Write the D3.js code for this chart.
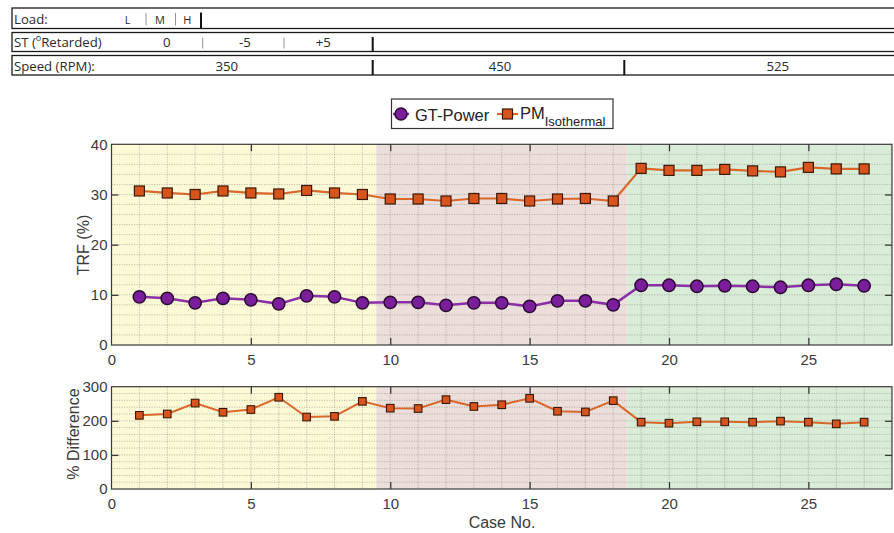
<!DOCTYPE html>
<html>
<head>
<meta charset="utf-8">
<script src="https://cdn.jsdelivr.net/npm/d3@7"></script>
<style>
  html, body { margin: 0; padding: 0; background: #fff; }
  svg { display: block; }
</style>
</head>
<body>
<svg id="chart" width="894" height="533"></svg>
<script>
// Case numbers along the x axis
const cases = [1, 2, 3, 4, 5, 6, 7, 8, 9, 10, 11, 12, 13, 14, 15, 16, 17, 18, 19, 20, 21, 22, 23, 24, 25, 26, 27];

// Thermal reduction factor (%) per case
const gtPower = [9.6, 9.3, 8.4, 9.3, 9.0, 8.2, 9.8, 9.6, 8.4, 8.5, 8.5, 7.9, 8.4, 8.4, 7.7, 8.8, 8.8, 8.0,
                 11.9, 11.9, 11.7, 11.8, 11.7, 11.5, 11.9, 12.1, 11.8];
const pmIsothermal = [30.7, 30.3, 30.0, 30.7, 30.3, 30.1, 30.8, 30.3, 30.0, 29.1, 29.1, 28.7, 29.2, 29.2, 28.7, 29.1, 29.2, 28.7,
                      35.2, 34.8, 34.8, 35.0, 34.7, 34.5, 35.4, 35.1, 35.1];

// Percentage difference between the two models
const pctDifference = [216, 220, 252, 225, 233, 269, 211, 213, 257, 237, 236, 262, 242, 247, 266, 228, 226, 259,
                       196, 193, 197, 197, 196, 199, 196, 191, 196];

// Speed bands shading the plots: [start, end] in case units
const bandRanges = [[0, 9.5], [9.5, 18.5], [18.5, 28]];
const bandColors = ["#fcf9d7", "#ecdedb", "#d9ecd8"];

// Tick values
const xTicks = [0, 5, 10, 15, 20, 25];
const topYTicks = [0, 10, 20, 30, 40];
const botYTicks = [0, 100, 200, 300];

// Operating-condition header rows
const loadLabels = ["L", "M", "H"];
const stLabels = ["0", "-5", "+5"];
const speedLabels = ["350", "450", "525"];

const svg = d3.select("#chart");
const FONT = "'Liberation Sans', Arial, sans-serif";
const HFONT = "'Open Sans', sans-serif";
const AX = "#3a3a3a";

// ---------- Header table ----------
const head = svg.append("g").attr("font-family", HFONT).attr("font-size", 13.2).attr("fill", "#2a2a2a");
const rows = [{y0: 8, y1: 28.5, base: 24}, {y0: 32.5, y1: 51.5, base: 47}, {y0: 55.5, y1: 75, base: 70.5}];
rows.forEach(r => {
  head.append("rect").attr("x", 12).attr("y", r.y0).attr("width", 900).attr("height", r.y1 - r.y0)
    .attr("fill", "none").attr("stroke", "#1a1a1a").attr("stroke-width", 1.3);
});
head.append("text").attr("x", 14).attr("y", rows[0].base).text("Load:");
const st = head.append("text").attr("x", 14).attr("y", rows[1].base);
st.append("tspan").text("ST (");
st.append("tspan").attr("font-size", 9).attr("dy", -6).text("o");
st.append("tspan").attr("dy", 6).text("Retarded)");
head.append("text").attr("x", 14).attr("y", rows[2].base).text("Speed (RPM):");

const headCells = [
  {labels: loadLabels, xs: [127.7, 160, 187.3], row: 0},
  {labels: stLabels, xs: [166.7, 245, 323.3], row: 1},
  {labels: speedLabels, xs: [226.7, 500, 777.7], row: 2}
];
headCells.forEach(c => {
  head.selectAll(null).data(c.labels).enter().append("text")
    .attr("x", (d, i) => c.xs[i]).attr("y", rows[c.row].base)
    .attr("text-anchor", "middle")
    .attr("font-size", c.row === 0 ? 11 : 13.2)
    .text(d => d);
});
// thin separators between sub-columns
const thinSeps = [{x: 146, row: 0}, {x: 175.5, row: 0}, {x: 202.7, row: 1}, {x: 284, row: 1}];
thinSeps.forEach(s => {
  head.append("line").attr("x1", s.x).attr("x2", s.x)
    .attr("y1", rows[s.row].y0 + 5).attr("y2", rows[s.row].y1 - 3)
    .attr("stroke", "#888").attr("stroke-width", 0.9);
});
// heavy separators between groups
const thickSeps = [{x: 201, row: 0}, {x: 372.7, row: 1}, {x: 372.7, row: 2}, {x: 624.3, row: 2}];
thickSeps.forEach(s => {
  head.append("line").attr("x1", s.x).attr("x2", s.x)
    .attr("y1", rows[s.row].y0 + 4.5).attr("y2", rows[s.row].y1)
    .attr("stroke", "#111").attr("stroke-width", 2);
});

// ---------- Scales ----------
const x = d3.scaleLinear().domain([0, 28]).range([111.5, 892]);
const yTop = d3.scaleLinear().domain([0, 40]).range([345, 144.3]);
const yBot = d3.scaleLinear().domain([0, 300]).range([489, 386.7]);

function panel(y, yTicks, minorStep) {
  const g = svg.append("g");
  const [yMin, yMax] = y.domain();
  const [x0, x1] = x.range();
  // speed-band shading
  g.selectAll("rect.band").data(bandRanges).enter().append("rect")
    .attr("x", d => x(d[0])).attr("width", d => x(d[1]) - x(d[0]))
    .attr("y", y(yMax)).attr("height", y(yMin) - y(yMax))
    .attr("fill", (d, i) => bandColors[i]);
  // dotted grid
  const gx = d3.range(1, 28);
  g.selectAll("line.gx").data(gx).enter().append("line")
    .attr("x1", d => x(d)).attr("x2", d => x(d))
    .attr("y1", y(yMax)).attr("y2", y(yMin))
    .attr("stroke", "#7a7a70").attr("stroke-opacity", 0.45)
    .attr("stroke-dasharray", "1.2,1.3").attr("stroke-width", 1);
  const gy = d3.range(yMin + minorStep, yMax, minorStep);
  g.selectAll("line.gy").data(gy).enter().append("line")
    .attr("x1", x0).attr("x2", x1)
    .attr("y1", d => y(d)).attr("y2", d => y(d))
    .attr("stroke", "#7a7a70").attr("stroke-opacity", 0.45)
    .attr("stroke-dasharray", "1.2,1.3").attr("stroke-width", 1);

  // axes with inward ticks
  const axB = g.append("g").attr("transform", `translate(0,${y(yMin)})`)
    .call(d3.axisBottom(x).tickValues(xTicks).tickSizeInner(-7).tickSizeOuter(0).tickPadding(9).tickFormat(d3.format("d")));
  const axT = g.append("g").attr("transform", `translate(0,${y(yMax)})`)
    .call(d3.axisTop(x).tickValues(xTicks).tickSizeInner(-7).tickSizeOuter(0).tickFormat(""));
  const axL = g.append("g").attr("transform", `translate(${x0},0)`)
    .call(d3.axisLeft(y).tickValues(yTicks).tickSizeInner(-7).tickSizeOuter(0).tickPadding(4).tickFormat(d3.format("d")));
  const axR = g.append("g").attr("transform", `translate(${x1},0)`)
    .call(d3.axisRight(y).tickValues(yTicks).tickSizeInner(-7).tickSizeOuter(0).tickFormat(""));
  [axB, axT, axL, axR].forEach(a => {
    a.select(".domain").remove();
    a.selectAll(".tick line").attr("stroke", AX).attr("stroke-width", 1.3);
    a.selectAll(".tick text").attr("font-family", FONT).attr("font-size", 15).attr("fill", "#3a3a3a");
  });
  // hide tick marks that fall on the frame corners
  [axB, axT].forEach(a => a.selectAll(".tick").filter(d => d === 0).select("line").remove());
  [axL, axR].forEach(a => a.selectAll(".tick").filter(d => d === yMin || d === yMax).select("line").remove());

  g.append("rect").attr("x", x0).attr("y", y(yMax))
    .attr("width", x1 - x0).attr("height", y(yMin) - y(yMax))
    .attr("fill", "none").attr("stroke", AX).attr("stroke-width", 1.2);
  return g;
}

// ---------- Top panel: TRF ----------
const trfPanel = panel(yTop, topYTicks, 2);
const line = (y, vals) => d3.line().x((d, i) => x(cases[i])).y(d => y(d))(vals);

const PURPLE_LINE = "#8a2fa6", PURPLE_FILL = "#7a1e9c", PURPLE_EDGE = "#2a0a30";
const ORANGE_LINE = "#d8682a", ORANGE_FILL = "#d9541c", ORANGE_EDGE = "#3a1804";

trfPanel.append("path").attr("d", line(yTop, pmIsothermal)).attr("fill", "none")
  .attr("stroke", ORANGE_LINE).attr("stroke-width", 2.2);
trfPanel.selectAll("rect.pm").data(pmIsothermal).enter().append("rect")
  .attr("x", (d, i) => x(cases[i]) - 5).attr("y", d => yTop(d) - 5)
  .attr("width", 10).attr("height", 10)
  .attr("fill", ORANGE_FILL).attr("stroke", ORANGE_EDGE).attr("stroke-width", 1.2);

trfPanel.append("path").attr("d", line(yTop, gtPower)).attr("fill", "none")
  .attr("stroke", PURPLE_LINE).attr("stroke-width", 2.5);
trfPanel.selectAll("circle.gt").data(gtPower).enter().append("circle")
  .attr("cx", (d, i) => x(cases[i])).attr("cy", d => yTop(d)).attr("r", 6.2)
  .attr("fill", PURPLE_FILL).attr("stroke", PURPLE_EDGE).attr("stroke-width", 1.5);

svg.append("text").attr("transform", "translate(89,245) rotate(-90)")
  .attr("text-anchor", "middle").attr("font-family", FONT).attr("font-size", 16).attr("fill", "#3a3a3a")
  .text("TRF (%)");

// ---------- Bottom panel: % difference ----------
const diffPanel = panel(yBot, botYTicks, 20);
diffPanel.append("path").attr("d", line(yBot, pctDifference)).attr("fill", "none")
  .attr("stroke", ORANGE_LINE).attr("stroke-width", 2);
diffPanel.selectAll("rect.pd").data(pctDifference).enter().append("rect")
  .attr("x", (d, i) => x(cases[i]) - 3.8).attr("y", d => yBot(d) - 3.8)
  .attr("width", 7.6).attr("height", 7.6)
  .attr("fill", ORANGE_FILL).attr("stroke", ORANGE_EDGE).attr("stroke-width", 1.1);

svg.append("text").attr("transform", "translate(79,434) rotate(-90)")
  .attr("text-anchor", "middle").attr("font-family", FONT).attr("font-size", 16).attr("fill", "#3a3a3a")
  .text("% Difference");
svg.append("text").attr("x", 502).attr("y", 528)
  .attr("text-anchor", "middle").attr("font-family", FONT).attr("font-size", 16).attr("fill", "#3a3a3a")
  .text("Case No.");

// ---------- Legend ----------
const lg = svg.append("g").attr("font-family", FONT).attr("fill", "#222");
lg.append("rect").attr("x", 391.5).attr("y", 99).attr("width", 221.5).attr("height", 29.5)
  .attr("fill", "#fff").attr("stroke", "#333").attr("stroke-width", 1.2);
lg.append("line").attr("x1", 393).attr("x2", 409).attr("y1", 114).attr("y2", 114)
  .attr("stroke", PURPLE_LINE).attr("stroke-width", 2.5);
lg.append("circle").attr("cx", 401).attr("cy", 114).attr("r", 6)
  .attr("fill", PURPLE_FILL).attr("stroke", PURPLE_EDGE).attr("stroke-width", 1.5);
lg.append("text").attr("x", 415).attr("y", 120.5).attr("font-size", 16.5).text("GT-Power");
lg.append("line").attr("x1", 497).attr("x2", 518).attr("y1", 114).attr("y2", 114)
  .attr("stroke", ORANGE_LINE).attr("stroke-width", 2.2);
lg.append("rect").attr("x", 502.5).attr("y", 109).attr("width", 10).attr("height", 10)
  .attr("fill", ORANGE_FILL).attr("stroke", ORANGE_EDGE).attr("stroke-width", 1.2);
const pm = lg.append("text").attr("x", 520).attr("y", 119).attr("font-size", 16.5);
pm.append("tspan").text("PM");
pm.append("tspan").attr("dy", 7).attr("font-size", 13).text("Isothermal");
</script>
</body>
</html>
